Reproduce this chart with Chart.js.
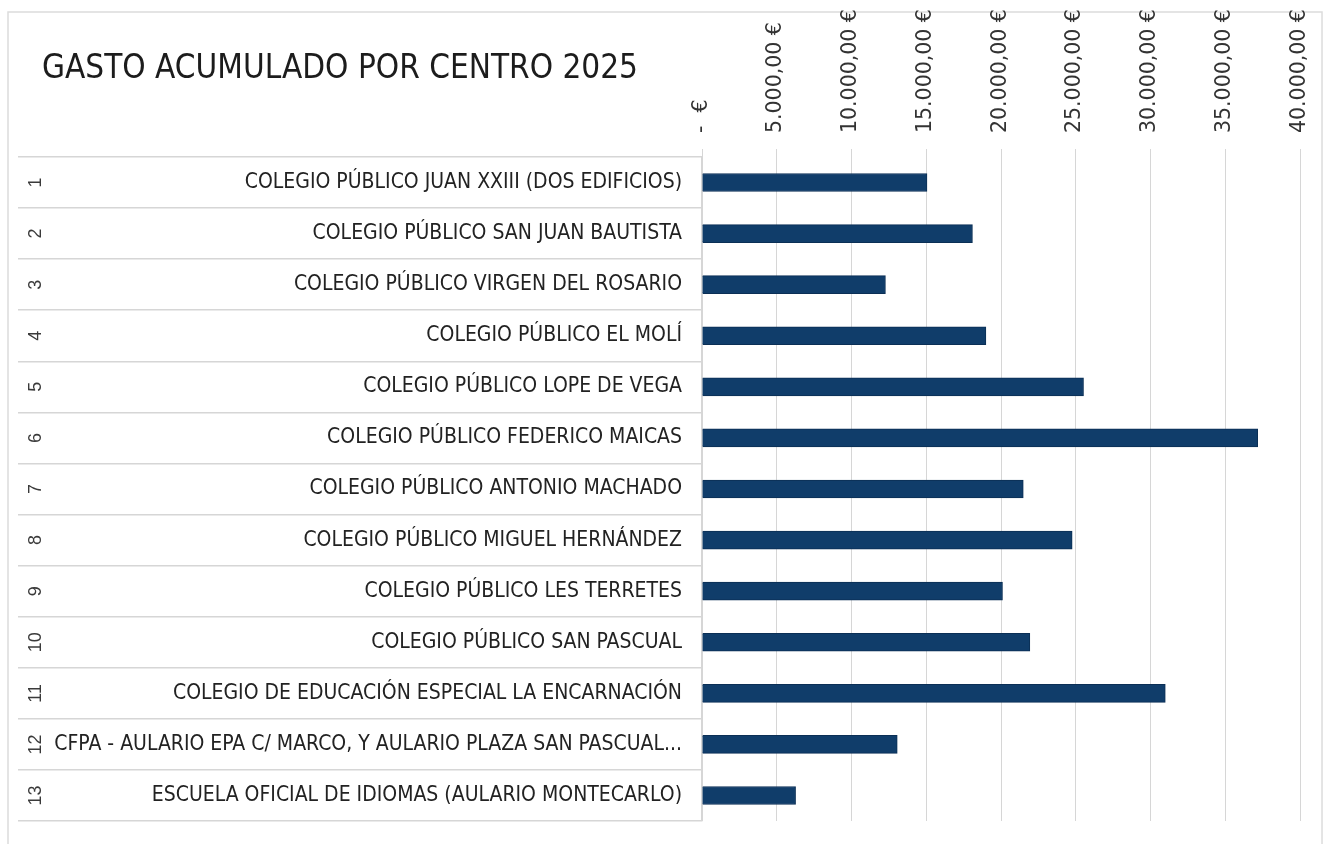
<!DOCTYPE html>
<html>
<head>
<meta charset="utf-8">
<script src="https://cdn.jsdelivr.net/npm/chart.js@4"></script>
<style>
  html, body { margin: 0; padding: 0; background: #fff; }
  #wrap { position: relative; width: 1328px; height: 844px; }
  #titulo {
    position: absolute; left: 42px; top: 47px; margin: 0;
    font: 33px 'Liberation Sans Narrow', 'DejaVu Sans Condensed', sans-serif;
    color: #1c1c1c; font-weight: normal; white-space: nowrap;
  }
</style>
</head>
<body>
<div id="wrap">
  <canvas id="grafico" width="1328" height="844"></canvas>
  <h1 id="titulo">GASTO ACUMULADO POR CENTRO 2025</h1>
</div>
<script>
// datos
const centros = [
  'COLEGIO PÚBLICO JUAN XXIII (DOS EDIFICIOS)',
  'COLEGIO PÚBLICO SAN JUAN BAUTISTA',
  'COLEGIO PÚBLICO VIRGEN DEL ROSARIO',
  'COLEGIO PÚBLICO EL MOLÍ',
  'COLEGIO PÚBLICO LOPE DE VEGA',
  'COLEGIO PÚBLICO FEDERICO MAICAS',
  'COLEGIO PÚBLICO ANTONIO MACHADO',
  'COLEGIO PÚBLICO MIGUEL HERNÁNDEZ',
  'COLEGIO PÚBLICO LES TERRETES',
  'COLEGIO PÚBLICO SAN PASCUAL',
  'COLEGIO DE EDUCACIÓN ESPECIAL LA ENCARNACIÓN',
  'CFPA - AULARIO EPA C/ MARCO, Y AULARIO PLAZA SAN PASCUAL...',
  'ESCUELA OFICIAL DE IDIOMAS (AULARIO MONTECARLO)'
];
const numeros = ['1','2','3','4','5','6','7','8','9','10','11','12','13'];
const gasto = [15050, 18090, 12270, 18990, 25520, 37170, 21490, 24760, 20100, 21930, 30990, 13060, 6260];
const ticksEje = [0, 5000, 10000, 15000, 20000, 25000, 30000, 35000, 40000];

const fuenteEstrecha = "'Liberation Sans Narrow', 'DejaVu Sans Condensed', sans-serif";
const gris = '#d6d6d6';

function euros(v) {
  if (v === 0) return '-  €';
  return String(v).replace(/\B(?=(\d{3})+(?!\d))/g, '.') + ',00 €';
}

// marco, números de fila
const tabla = {
  id: 'tabla',
  beforeDraw(chart) {
    const ctx = chart.ctx;
    ctx.save();
    ctx.strokeStyle = '#dcdcdc';
    ctx.lineWidth = 1.5;
    ctx.strokeRect(8, 12, 1314, 845);
    ctx.restore();
  },
  afterDraw(chart) {
    const ctx = chart.ctx;
    const y = chart.scales.y;
    ctx.save();
    ctx.fillStyle = '#3a3a3a';
    ctx.font = "18px 'Liberation Sans', Arial, sans-serif";
    ctx.textAlign = 'center';
    ctx.textBaseline = 'middle';
    numeros.forEach((n, i) => {
      ctx.save();
      ctx.translate(36, y.getPixelForTick(i));
      ctx.rotate(-Math.PI / 2);
      ctx.fillText(n, 0, 0);
      ctx.restore();
    });
    ctx.restore();
  }
};

new Chart(document.getElementById('grafico'), {
  type: 'bar',
  data: {
    labels: centros,
    datasets: [{
      data: gasto,
      backgroundColor: '#103d6a',
      borderColor: '#0b2f55',
      borderWidth: 1,
      barThickness: 18
    }]
  },
  options: {
    indexAxis: 'y',
    responsive: false,
    animation: false,
    layout: { padding: { left: 18, right: 28, top: 10, bottom: 23 } },
    plugins: { legend: { display: false }, tooltip: { enabled: false }, title: { display: false } },
    scales: {
      x: {
        position: 'top',
        min: 0,
        max: 40000,
        afterBuildTicks(s) { s.ticks = ticksEje.map(v => ({ value: v })); },
        afterFit(s) { s.height = 147; },
        grid: { color: gris, lineWidth: 1, tickLength: 8, drawTicks: true },
        border: { display: false },
        ticks: {
          minRotation: 90,
          maxRotation: 90,
          padding: 16,
          labelOffset: 24,
          color: '#333',
          font: { family: "'DejaVu Sans', sans-serif", size: 20.5 },
          callback: v => euros(v)
        }
      },
      y: {
        afterFit(s) { s.width = 684; },
        grid: { drawOnChartArea: false, drawTicks: true, tickLength: 684, color: gris, lineWidth: 1.5 },
        border: { display: true, color: gris, width: 1.5 },
        ticks: {
          padding: -664,
          color: '#222',
          font: { family: fuenteEstrecha, size: 21 }
        }
      }
    }
  },
  plugins: [tabla]
});
</script>
</body>
</html>
